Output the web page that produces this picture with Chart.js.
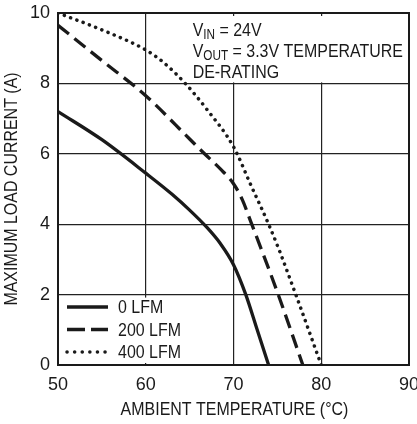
<!DOCTYPE html>
<html lang="en">
<head>
<meta charset="UTF-8">
<title>Temperature De-rating</title>
<style>
  body { margin: 0; background: #fff; }
  #wrap { width: 417px; height: 424px; }
</style>
</head>
<body>
<div id="wrap"><canvas id="derating" width="417" height="424"></canvas></div>
<script src="https://cdn.jsdelivr.net/npm/chart.js"></script>
<script>
// max load current (A) against ambient temperature (°C), one curve per airflow
var temp0 = [50, 55, 60, 63, 65, 67, 68.5, 70, 71.4, 72.7, 74];
var amps0 = [7.2, 6.4, 5.45, 4.85, 4.4, 3.9, 3.45, 2.85, 2.0, 1.0, 0];

var temp200 = [50, 55, 60, 65, 66.7, 68.5, 70, 71, 72, 73.2, 75.1, 77.9];
var amps200 = [9.65, 8.65, 7.65, 6.42, 6.0, 5.57, 5.15, 4.7, 4.05, 3.27, 2.0, 0];

var temp400 = [50, 55, 60, 62, 64.5, 67, 70, 72, 74, 75.2, 77.1, 80];
var amps400 = [10, 9.52, 8.95, 8.6, 8.0, 7.25, 6.2, 5.1, 4.0, 3.27, 2.0, 0];

var airflow = ['0 LFM', '200 LFM', '400 LFM'];
var xTitle = 'AMBIENT TEMPERATURE (°C)';
var yTitle = 'MAXIMUM LOAD CURRENT (A)';

var FONT = "'Liberation Sans', Arial, sans-serif";
var INK = '#1a1a1a';
var SQUEEZE = 0.84;   // condensed look for the captions

function pts(xs, ys) {
    return xs.map(function (x, i) { return { x: x, y: ys[i] }; });
}

// draws text squeezed horizontally, returns its drawn width
function narrow(ctx, text, x, y, size, align) {
    ctx.save();
    ctx.font = size + 'px ' + FONT;
    ctx.textAlign = align || 'left';
    ctx.translate(x, y);
    ctx.scale(SQUEEZE, 1);
    ctx.fillText(text, 0, 0);
    var w = ctx.measureText(text).width * SQUEEZE;
    ctx.restore();
    return w;
}

// white panels for the note and the key, plus frame, titles, key and note text
var extras = {
    id: 'extras',
    beforeDatasetsDraw: function (chart) {
        var ctx = chart.ctx, a = chart.chartArea, sx = chart.scales.x, sy = chart.scales.y;
        var noteLeft = sx.getPixelForValue(65);
        var y8 = sy.getPixelForValue(8), y2 = sy.getPixelForValue(2);
        ctx.save();
        ctx.fillStyle = '#fff';
        ctx.fillRect(noteLeft, a.top + 3, a.right - noteLeft - 1, y8 - a.top - 4);
        ctx.fillRect(a.left + 1, y2 + 3, sx.getPixelForValue(66) - a.left, a.bottom - y2 - 5);
        ctx.restore();
    },
    afterDraw: function (chart) {
        var ctx = chart.ctx, a = chart.chartArea, sx = chart.scales.x;
        ctx.save();
        ctx.strokeStyle = INK;
        ctx.fillStyle = INK;
        ctx.lineWidth = 2;
        ctx.strokeRect(a.left, a.top, a.right - a.left, a.bottom - a.top);

        // axis titles
        ctx.textBaseline = 'middle';
        narrow(ctx, xTitle, (a.left + a.right) / 2 + 1, 410, 19, 'center');
        ctx.save();
        ctx.translate(12, (a.top + a.bottom) / 2);
        ctx.rotate(-Math.PI / 2);
        narrow(ctx, yTitle, 0, 0, 19, 'center');
        ctx.restore();

        // key
        var keyDash = [[], [18, 6], [0.1, 7.5]];
        chart.data.datasets.forEach(function (ds, i) {
            var ry = a.bottom - 58 + i * 22.5;
            ctx.beginPath();
            ctx.setLineDash(keyDash[i]);
            ctx.lineCap = i === 2 ? 'round' : 'butt';
            ctx.lineWidth = ds.borderWidth;
            ctx.moveTo(a.left + 9, ry);
            ctx.lineTo(a.left + 50, ry);
            ctx.stroke();
            narrow(ctx, ds.label, a.left + 60, ry + 1, 19);
        });
        ctx.setLineDash([]);

        // note, with subscripts
        var nx = sx.getPixelForValue(65) + 3;
        ctx.textBaseline = 'alphabetic';
        function line(parts, base) {
            var x = nx;
            parts.forEach(function (p) {
                x += narrow(ctx, p[0], x, base + (p[1] ? 3 : 0), p[1] ? 14 : 19);
            });
        }
        line([['V'], ['IN', 1], [' = 24V']], a.top + 23);
        line([['V'], ['OUT', 1], [' = 3.3V TEMPERATURE']], a.top + 44);
        line([['DE-RATING']], a.top + 65);
        ctx.restore();
    }
};

new Chart(document.getElementById('derating'), {
    type: 'line',
    data: {
        datasets: [
            {
                label: airflow[0],
                data: pts(temp0, amps0),
                borderColor: INK,
                borderWidth: 3.3,
                pointRadius: 0,
                cubicInterpolationMode: 'monotone'
            },
            {
                label: airflow[1],
                data: pts(temp200, amps200),
                borderColor: INK,
                borderWidth: 3.3,
                borderDash: [14, 7],
                pointRadius: 0,
                cubicInterpolationMode: 'monotone'
            },
            {
                label: airflow[2],
                data: pts(temp400, amps400),
                borderColor: INK,
                borderWidth: 3.5,
                borderDash: [0.1, 6.6],
                borderCapStyle: 'round',
                pointRadius: 0,
                cubicInterpolationMode: 'monotone'
            }
        ]
    },
    options: {
        responsive: false,
        animation: false,
        layout: { padding: { top: 13, right: 8, left: 0, bottom: 0 } },
        plugins: { legend: { display: false }, tooltip: { enabled: false } },
        scales: {
            x: {
                type: 'linear',
                min: 50,
                max: 90,
                ticks: { stepSize: 10, padding: 9, color: INK, font: { family: FONT, size: 18 } },
                grid: { color: '#222', lineWidth: 1.2, drawTicks: false },
                border: { color: INK, width: 2 },
                afterFit: function (s) { s.height = 59; s.paddingLeft = 0; s.paddingRight = 0; }
            },
            y: {
                min: 0,
                max: 10,
                ticks: { stepSize: 2, padding: 8, color: INK, font: { family: FONT, size: 18 } },
                grid: { color: '#222', lineWidth: 1.2, drawTicks: false },
                border: { color: INK, width: 2 },
                afterFit: function (s) { s.width = 58; s.paddingTop = 0; s.paddingBottom = 0; }
            }
        }
    },
    plugins: [extras]
});
</script>
</body>
</html>
